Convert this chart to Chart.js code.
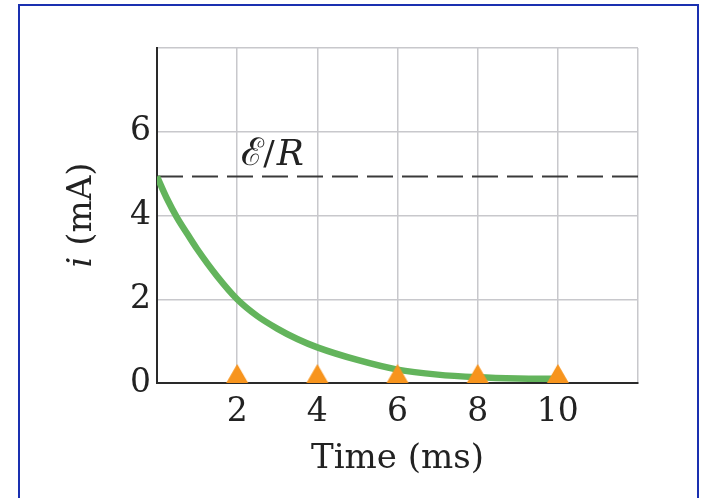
<!DOCTYPE html>
<html>
<head>
<meta charset="utf-8">
<script src="https://cdn.jsdelivr.net/npm/chart.js@4"></script>
<style>
  html, body { margin: 0; padding: 0; background: #ffffff; }
  #wrap { position: relative; width: 704px; height: 498px; overflow: hidden; }
  #frame { position: absolute; left: 18px; top: 4px; width: 681px; height: 520px;
           border: 2px solid #1a30b0; box-sizing: border-box; }
  #c { position: absolute; left: 0; top: 0; }
</style>
</head>
<body>
<div id="wrap">
  <div id="frame"></div>
  <canvas id="c" width="704" height="498"></canvas>
</div>
<script>
// ---- data ----
const timeMs      = [0, 0.25, 0.5, 0.75, 1, 1.5, 2, 2.5, 3, 3.5, 4, 5, 6, 7, 8, 9, 10];
const currentMA   = [4.93, 4.4, 3.95, 3.57, 3.2, 2.55, 2.0, 1.6, 1.3, 1.05, 0.85, 0.55, 0.32, 0.2, 0.14, 0.11, 0.1];
const markerTimes = [2, 4, 6, 8, 10];
const markerVals  = [0, 0, 0, 0, 0];
const emfOverR    = 4.93;         // asymptote E/R (mA)
const xRange      = [0, 12];
const yRange      = [0, 8];
const xTickLabels = [2, 4, 6, 8, 10];
const yTickLabels = [0, 2, 4, 6];
const xTitle = 'Time (ms)';
const yTitleItalic = 'i';
const yTitleRest = ' (mA)';
const asymLabelScript = '\u2130';
const asymLabelSlash = '/';
const asymLabelItalic = 'R';

// triangle marker image (base at image centre so it sits on the axis)
function makeTriangle() {
  const w = 24, h = 40;
  const cv = document.createElement('canvas');
  cv.width = w; cv.height = h;
  const g = cv.getContext('2d');
  g.fillStyle = '#f7941d';
  g.beginPath();
  g.moveTo(w / 2, h / 2 - 19);
  g.lineTo(w / 2 + 11, h / 2);
  g.lineTo(w / 2 - 11, h / 2);
  g.closePath();
  g.fill();
  return cv;
}

const serif = "'DejaVu Serif', 'Liberation Serif', serif";

const annotPlugin = {
  id: 'annot',
  afterDraw(chart) {
    const ctx = chart.ctx;
    const xs = chart.scales.x, ys = chart.scales.y;
    ctx.save();
    ctx.fillStyle = '#222';
    // asymptote label
    let lx = xs.getPixelForValue(2.1);
    const ly = ys.getPixelForValue(5.2);
    ctx.textBaseline = 'alphabetic';
    ctx.textAlign = 'left';
    ctx.font = "38px " + serif;
    ctx.fillText(asymLabelScript, lx, ly);
    lx += ctx.measureText(asymLabelScript).width - 1;
    ctx.font = "34px " + serif;
    ctx.fillText(asymLabelSlash, lx, ly);
    lx += ctx.measureText(asymLabelSlash).width + 2;
    ctx.font = "italic 36px " + serif;
    ctx.fillText(asymLabelItalic, lx, ly);
    // y axis title (rotated, italic i)
    ctx.translate(82, 215);
    ctx.rotate(-Math.PI / 2);
    ctx.font = "italic 34px " + serif;
    const wi = ctx.measureText(yTitleItalic).width;
    ctx.font = "34px " + serif;
    const wr = ctx.measureText(yTitleRest).width;
    const start = -(wi + wr) / 2;
    ctx.textBaseline = 'middle';
    ctx.font = "italic 34px " + serif;
    ctx.fillText(yTitleItalic, start, 0);
    ctx.font = "34px " + serif;
    ctx.fillText(yTitleRest, start + wi, 0);
    ctx.restore();
  }
};

new Chart(document.getElementById('c'), {
  type: 'scatter',
  data: {
    datasets: [
      {
        label: 'markers',
        data: markerTimes.map((t, i) => ({ x: t, y: markerVals[i] })),
        pointStyle: makeTriangle(),
        pointRadius: 12,
        showLine: false,
        order: 0
      },
      {
        label: 'current',
        data: timeMs.map((t, i) => ({ x: t, y: currentMA[i] })),
        showLine: true,
        borderColor: '#63b45c',
        borderWidth: 6.5,
        pointRadius: 0,
        cubicInterpolationMode: 'monotone',
        borderCapStyle: 'butt',
        order: 1
      },
      {
        label: 'asymptote',
        data: [{ x: xRange[0], y: emfOverR }, { x: xRange[1], y: emfOverR }],
        showLine: true,
        borderColor: '#3a3a3a',
        borderWidth: 2,
        borderDash: [26, 9],
        pointRadius: 0,
        order: 2
      }
    ]
  },
  options: {
    responsive: false,
    animation: false,
    layout: { padding: { left: 0, top: 48, right: 66, bottom: 0 } },
    plugins: { legend: { display: false }, tooltip: { enabled: false } },
    scales: {
      x: {
        type: 'linear', min: xRange[0], max: xRange[1],
        afterFit(s) { s.height = 115; },
        afterBuildTicks(s) { s.ticks = [0, ...xTickLabels, 12].map(v => ({ value: v })); },
        ticks: {
          callback: v => xTickLabels.includes(v) ? String(v) : '',
          font: { family: serif, size: 33 }, color: '#222',
          padding: 10, maxRotation: 0, autoSkip: false
        },
        grid: { color: '#c8c8cc', lineWidth: 1.5, drawTicks: false },
        border: { color: '#2a2a2a', width: 2 },
        title: {
          display: true, text: xTitle, color: '#222',
          font: { family: serif, size: 34 }, padding: { top: 0, bottom: 18 }
        }
      },
      y: {
        type: 'linear', min: yRange[0], max: yRange[1],
        afterFit(s) { s.width = 157; },
        afterBuildTicks(s) { s.ticks = [...yTickLabels, 8].map(v => ({ value: v })); },
        ticks: {
          callback: v => yTickLabels.includes(v) ? String(v) : '',
          font: { family: serif, size: 33 }, color: '#222',
          padding: 6, autoSkip: false
        },
        grid: { color: '#c8c8cc', lineWidth: 1.5, drawTicks: false },
        border: { color: '#2a2a2a', width: 2 }
      }
    }
  },
  plugins: [annotPlugin]
});
</script>
</body>
</html>
